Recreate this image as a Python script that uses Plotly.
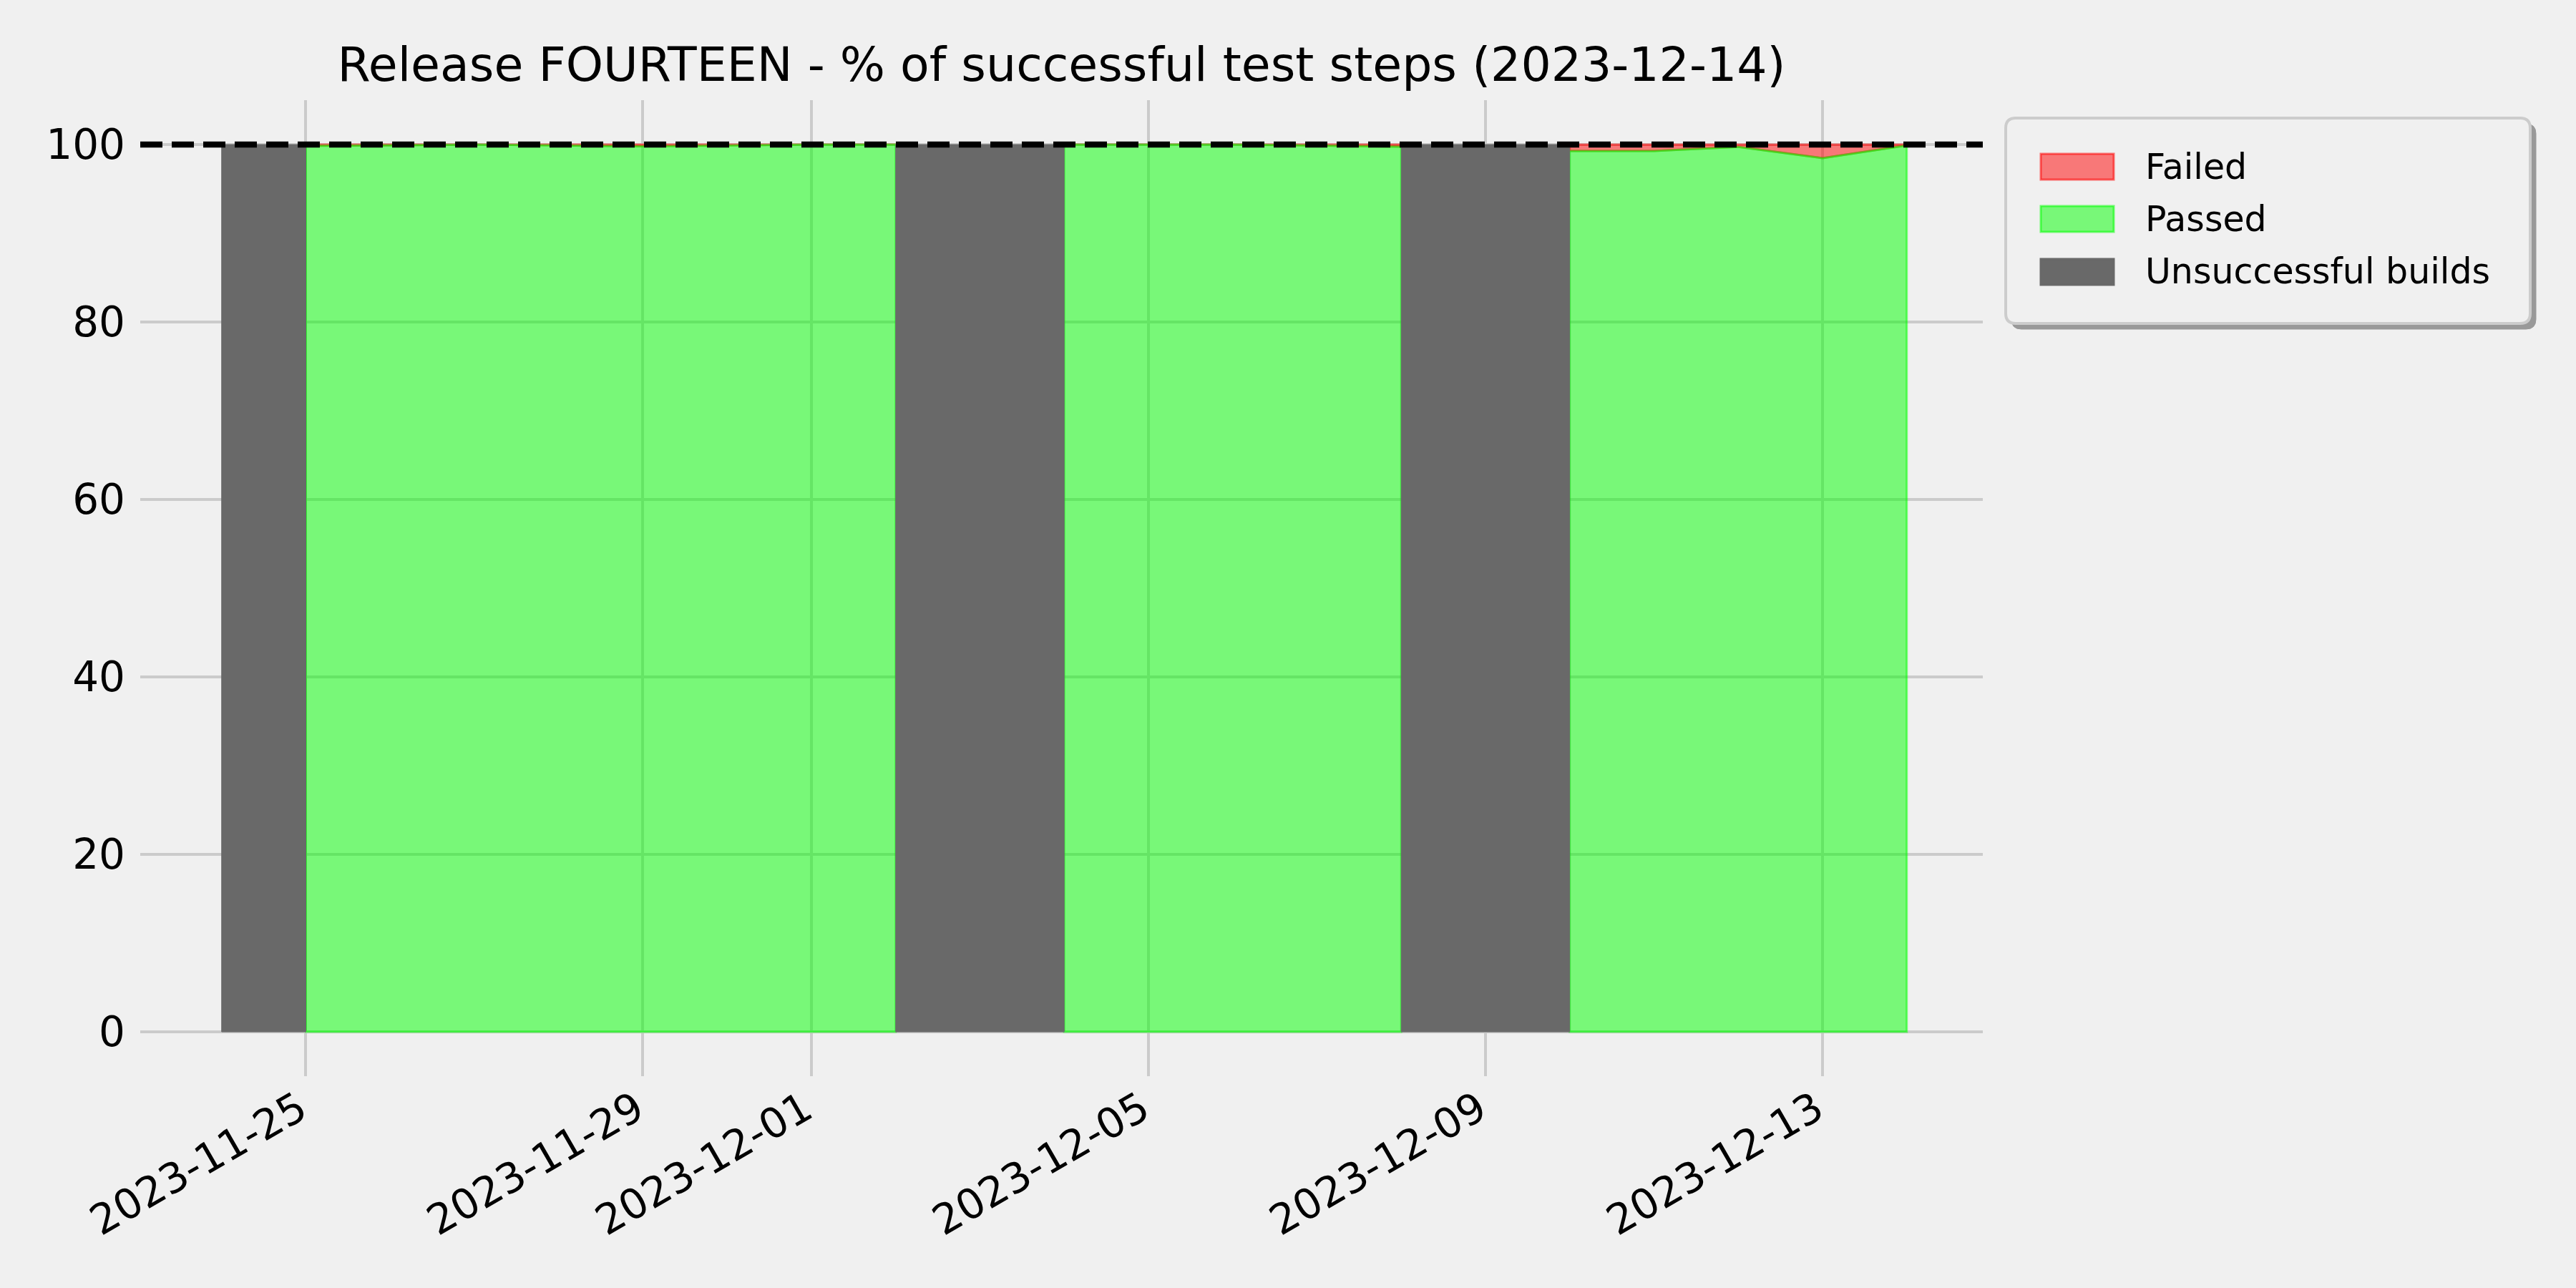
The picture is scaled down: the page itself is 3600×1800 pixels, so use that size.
import plotly.graph_objects as go

# ---------------- data ----------------
dates = ["2023-11-24", "2023-11-25", "2023-11-26", "2023-11-27", "2023-11-28",
         "2023-11-29", "2023-11-30", "2023-12-01", "2023-12-02", "2023-12-03",
         "2023-12-04", "2023-12-05", "2023-12-06", "2023-12-07", "2023-12-08",
         "2023-12-09", "2023-12-10", "2023-12-11", "2023-12-12", "2023-12-13",
         "2023-12-14"]
build_ok = [False, True, True, True, True, True, True, True, True, False,
            True, True, True, True, True, False, True, True, True, True, True]
passed_pct = [None, 99.85, 99.9, 100.0, 99.9, 99.8, 99.9, 100.0, 100.0, None,
              100.0, 100.0, 100.0, 99.9, 99.75, None,
              99.27, 99.27, 99.73, 98.47, 99.9]
x_tick_values = ["2023-11-25", "2023-11-29", "2023-12-01", "2023-12-05",
                 "2023-12-09", "2023-12-13"]
x_tick_labels = ["2023-11-25", "2023-11-29", "2023-12-01", "2023-12-05",
                 "2023-12-09", "2023-12-13"]
y_tick_values = [0, 20, 40, 60, 80, 100]
x_range = ["2023-11-23 00:49", "2023-12-14 21:40"]
y_range = [-5, 105]
TARGET = 100
title_text = "Release FOURTEEN - % of successful test steps (2023-12-14)"
legend_labels = ["Failed", "Passed", "Unsuccessful builds"]

# ---------------- style ----------------
BG = "#f0f0f0"
GRID = "#cbcbcb"
RED_FILL = "rgba(255,0,0,0.5)"
GREEN_FILL = "rgba(0,255,0,0.5)"
GRAY = "#696969"
FONT = "DejaVu Sans"

W, H = 3600, 1800
L, R, T, B = 196, 2771, 140, 1504


def px_x(p):
    return (p - L) / (R - L)


def px_y(p):
    return (B - p) / (B - T)


fig = go.Figure()

# successful segments
segments = []
cur = []
for d, ok, v in zip(dates, build_ok, passed_pct):
    if ok and v is not None:
        cur.append((d, v))
    else:
        if cur:
            segments.append(cur)
        cur = []
if cur:
    segments.append(cur)

# failed area (between passed and 100)
for seg in segments:
    xs = [d for d, _ in seg]
    ys = [v for _, v in seg]
    fig.add_trace(go.Scatter(
        x=xs + xs[::-1] + [xs[0]],
        y=[TARGET] * len(xs) + ys[::-1] + [TARGET],
        mode="lines", fill="toself", fillcolor=RED_FILL,
        line=dict(color=RED_FILL, width=3),
        name="Failed", showlegend=False, hoverinfo="skip"))

# passed area
for seg in segments:
    xs = [d for d, _ in seg]
    ys = [v for _, v in seg]
    fig.add_trace(go.Scatter(
        x=xs + [xs[-1], xs[0], xs[0]],
        y=ys + [0, 0, ys[0]],
        mode="lines", fill="toself", fillcolor=GREEN_FILL,
        line=dict(color=GREEN_FILL, width=3),
        name="Passed", showlegend=False, hoverinfo="skip"))

# unsuccessful builds
n = len(dates)
for i, ok in enumerate(build_ok):
    if ok:
        continue
    x0 = dates[i - 1] if i > 0 else dates[i]
    x1 = dates[i + 1] if i < n - 1 else dates[i]
    fig.add_trace(go.Scatter(
        x=[x0, x0, x1, x1, x0], y=[0, TARGET, TARGET, 0, 0],
        mode="lines", fill="toself", fillcolor=GRAY,
        line=dict(color=GRAY, width=1),
        name="Unsuccessful builds", showlegend=False, hoverinfo="skip"))

# dashed target line
fig.add_hline(y=TARGET, line=dict(color="black", width=8.3, dash="31px,13px"),
              layer="above")

# ---------------- custom legend ----------------
def rounded_rect(x0, y0, x1, y1, r):
    X = px_x
    Y = px_y
    return (f"M {X(x0 + r)} {Y(y0)} L {X(x1 - r)} {Y(y0)} "
            f"Q {X(x1)} {Y(y0)} {X(x1)} {Y(y0 + r)} "
            f"L {X(x1)} {Y(y1 - r)} Q {X(x1)} {Y(y1)} {X(x1 - r)} {Y(y1)} "
            f"L {X(x0 + r)} {Y(y1)} Q {X(x0)} {Y(y1)} {X(x0)} {Y(y1 - r)} "
            f"L {X(x0)} {Y(y0 + r)} Q {X(x0)} {Y(y0)} {X(x0 + r)} {Y(y0)} Z")


lx0, ly0, lx1, ly1 = 2803, 165, 3536, 452
fig.add_shape(type="path", xref="paper", yref="paper",
              path=rounded_rect(lx0 + 8, ly0 + 8, lx1 + 8, ly1 + 8, 14),
              fillcolor="#999999", line=dict(color="#999999", width=1), layer="above")
fig.add_shape(type="path", xref="paper", yref="paper",
              path=rounded_rect(lx0, ly0, lx1, ly1, 14),
              fillcolor=BG, line=dict(color="#cccccc", width=4), layer="above")

patch_styles = [(RED_FILL, "rgba(255,0,0,0.55)"), (GREEN_FILL, "rgba(0,255,0,0.55)"),
                (GRAY, GRAY)]
rows_y = [233, 306, 380]
for lab, (fc, lc), cy in zip(legend_labels, patch_styles, rows_y):
    fig.add_shape(type="rect", xref="paper", yref="paper",
                  x0=px_x(2852), x1=px_x(2954), y0=px_y(cy - 18), y1=px_y(cy + 18),
                  fillcolor=fc, line=dict(color=lc, width=3), layer="above")
    fig.add_annotation(x=px_x(2996), y=px_y(cy), xref="paper", yref="paper",
                       text=lab, showarrow=False, xanchor="left", yanchor="middle",
                       font=dict(family=FONT, size=49, color="black"))

fig.update_layout(
    width=W, height=H,
    paper_bgcolor=BG, plot_bgcolor=BG,
    margin=dict(l=L, r=W - R, t=T, b=H - B, pad=0),
    showlegend=False,
    font=dict(family=FONT, color="black", size=58),
    title=dict(text=title_text, x=px_x((L + R) / 2), xref="paper", xanchor="center",
               y=1 - 90 / H, yref="container", yanchor="middle",
               font=dict(family=FONT, size=66.5, color="black")),
    xaxis=dict(type="date", range=x_range, tickvals=x_tick_values,
               ticktext=x_tick_labels, tickangle=-30, ticklabelshift=-9,
               showgrid=True, gridcolor=GRID, gridwidth=4,
               zeroline=False, showline=False, ticks="",
               tickfont=dict(family=FONT, size=58, color="black")),
    yaxis=dict(range=y_range, tickvals=y_tick_values,
               showgrid=True, gridcolor=GRID, gridwidth=4,
               zeroline=False, showline=False, ticks="", ticklabelstandoff=20,
               tickfont=dict(family=FONT, size=58, color="black")),
)

fig.write_html(
    "out.html",
    config={"displayModeBar": False},
    post_script="document.body.style.margin='0';document.body.style.background='#f0f0f0';",
)
